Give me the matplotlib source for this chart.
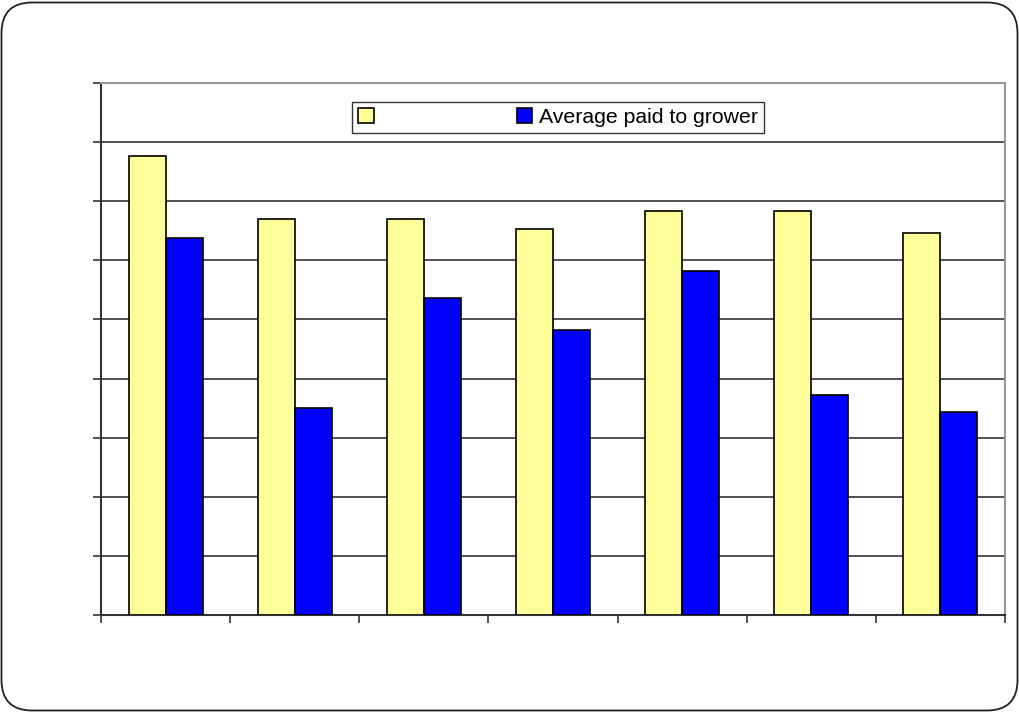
import numpy as np
import matplotlib
matplotlib.use("Agg")
import matplotlib.pyplot as plt
from matplotlib.patches import FancyBboxPatch

plt.rcParams['font.family'] = ['Liberation Sans', 'DejaVu Sans']

# data (axis has no printed labels)
categories = ["", "", "", "", "", "", ""]
series_names = ["", "Average paid to grower"]
retail = [7.77, 6.70, 6.70, 6.53, 6.84, 6.84, 6.46]
grower = [6.38, 3.50, 5.36, 4.82, 5.82, 3.72, 3.43]
y_max = 9

fig = plt.figure(figsize=(10.2, 7.12), dpi=100)

# rounded outer frame
frame = FancyBboxPatch((1.5 / 1020, 1.5 / 712), 1016 / 1020, 708 / 712,
                       boxstyle="round,pad=0,rounding_size=0.03",
                       transform=fig.transFigure, fill=False,
                       edgecolor="#222222", linewidth=1.3, mutation_aspect=1020 / 712)
fig.patches.append(frame)

ax = fig.add_axes([101 / 1020, 1 - 615 / 712, 904 / 1020, 532 / 712])

x = np.arange(len(categories))
w = 0.287
b1 = ax.bar(x - w / 2, retail, w, color="#ffff99", edgecolor="black", linewidth=1.2,
            zorder=3)
b2 = ax.bar(x + w / 2, grower, w, color="#0000ff", edgecolor="black", linewidth=1.2,
            zorder=3)

ax.set_xlim(-0.5, len(categories) - 0.5)
ax.set_ylim(0, y_max)
ax.set_yticks(np.arange(0, y_max + 1))
ax.set_yticklabels([])
ax.set_xticks(np.arange(len(categories) + 1) - 0.5)
ax.set_xticklabels([])
ax.tick_params(axis="both", length=6, width=1.2, color="#333333")
ax.yaxis.grid(True, color="#222222", linewidth=1.1, zorder=0)

for side in ["top", "right"]:
    ax.spines[side].set_color("#999999")
    ax.spines[side].set_linewidth(1.5)
for side in ["left", "bottom"]:
    ax.spines[side].set_color("#333333")
    ax.spines[side].set_linewidth(1.5)

leg = ax.legend([b1, b2], series_names, loc="center",
                bbox_to_anchor=(558 / 1020, 1 - 117.5 / 712),
                bbox_transform=fig.transFigure, ncol=2, fontsize=15.3,
                frameon=True, fancybox=False, shadow=False,
                handlelength=0.75, handleheight=0.75, handletextpad=0.3,
                columnspacing=6.4, borderpad=0.3, borderaxespad=0)
leg.get_frame().set_edgecolor("#333333")
leg.get_frame().set_linewidth(1.0)
leg.get_frame().set_alpha(1)

fig.savefig("out.png", dpi=100)
